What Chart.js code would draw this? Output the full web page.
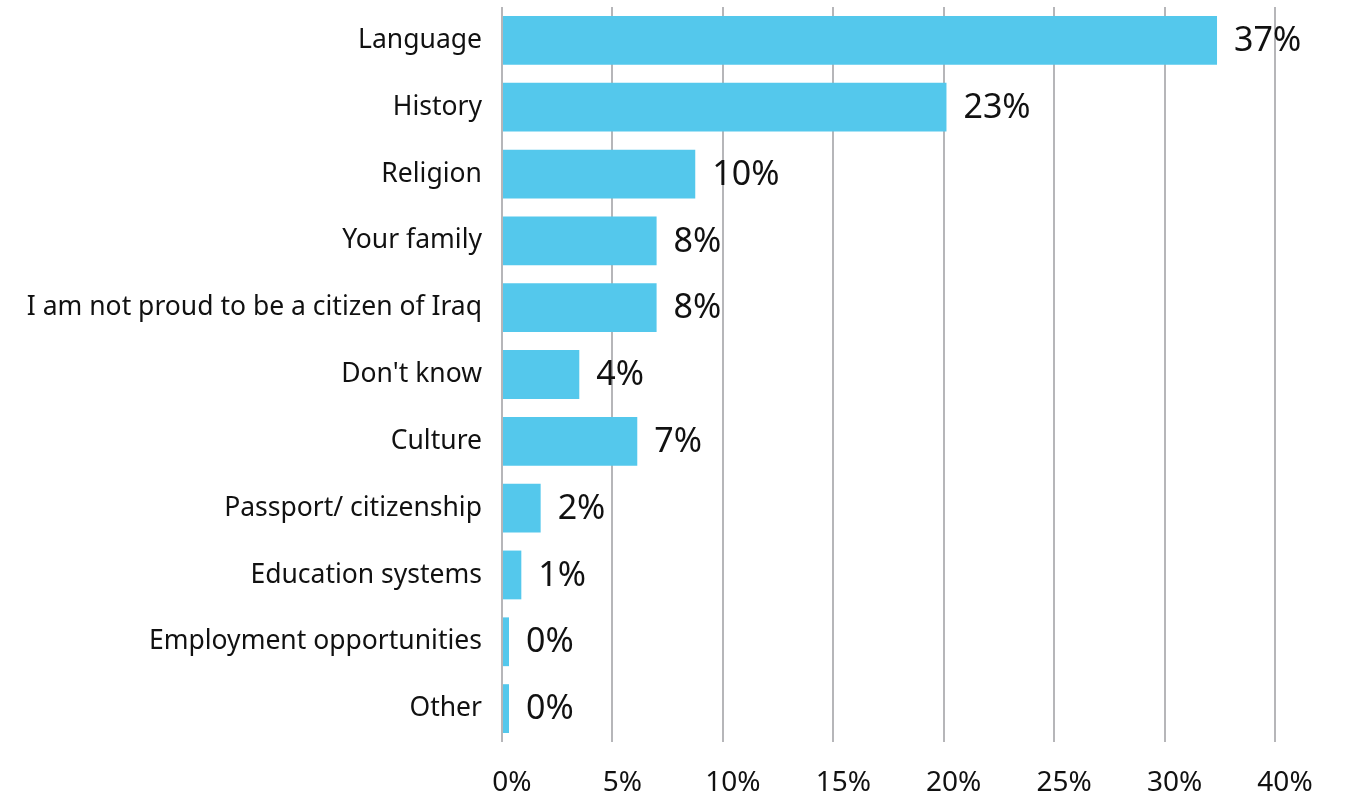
<!DOCTYPE html>
<html>
<head>
<meta charset="utf-8">
<script src="https://cdn.jsdelivr.net/npm/chart.js@4.4.0/dist/chart.umd.min.js"></script>
<style>
  body { margin: 0; background: #fff; }
  #wrap { width: 1361px; height: 805px; }
</style>
</head>
<body>
<div id="wrap"><canvas id="pride" width="1361" height="805"></canvas></div>
<script>
const categories = [
    'Language',
    'History',
    'Religion',
    'Your family',
    'I am not proud to be a citizen of Iraq',
    "Don't know",
    'Culture',
    'Passport/ citizenship',
    'Education systems',
    'Employment opportunities',
    'Other'
]
const shares = [37, 23, 10, 8, 8, 4, 7, 2, 1, 0, 0]
const tickLabels = ['0%', '5%', '10%', '15%', '20%', '25%', '30%', '40%']
const axisMax = 40

const fontFamily = '"Noto Sans", "Open Sans", sans-serif'
const gridGrey = '#b6b6b9'

// percentage labels at the end of each bar
const valueLabels = {
    id: 'valueLabels',
    afterDatasetsDraw(chart) {
        const ctx = chart.ctx
        const meta = chart.getDatasetMeta(0)
        ctx.save()
        ctx.font = '34px ' + fontFamily
        ctx.fillStyle = '#111'
        ctx.textAlign = 'left'
        ctx.textBaseline = 'middle'
        meta.data.forEach((bar, i) => {
            ctx.fillText(shares[i] + '%', bar.x + 17, bar.y + 1)
        })
        ctx.restore()
    }
}

new Chart(document.getElementById('pride'), {
    type: 'bar',
    data: {
        labels: categories,
        datasets: [{
            data: shares,
            backgroundColor: '#54c8ec',
            borderWidth: 0,
            barPercentage: 0.73,
            categoryPercentage: 1,
            minBarLength: 7
        }]
    },
    options: {
        indexAxis: 'y',
        responsive: false,
        animation: false,
        layout: { padding: { top: 7, right: 86, left: 0, bottom: 0 } },
        plugins: {
            legend: { display: false },
            tooltip: { enabled: false }
        },
        scales: {
            x: {
                min: 0,
                max: axisMax,
                afterBuildTicks(scale) {
                    // eight evenly spaced gridlines, labelled from tickLabels
                    scale.ticks = tickLabels.map((_, i) => ({ value: i * axisMax / (tickLabels.length - 1) }))
                },
                afterFit(scale) {
                    scale.height = 63
                    scale.paddingLeft = 0
                    scale.paddingRight = 0
                },
                border: { display: false },
                grid: { color: gridGrey, lineWidth: 2, drawTicks: false },
                ticks: {
                    callback: (v, i) => tickLabels[i],
                    color: '#111',
                    font: { family: fontFamily, size: 28 },
                    padding: 24,
                    labelOffset: 10,
                    maxRotation: 0
                }
            },
            y: {
                afterFit(scale) {
                    scale.width = 502
                    scale.paddingTop = 0
                    scale.paddingBottom = 0
                },
                border: { display: false },
                grid: { display: false },
                ticks: {
                    color: '#111',
                    font: { family: fontFamily, size: 26.5 },
                    padding: 12
                }
            }
        }
    },
    plugins: [valueLabels]
});
</script>
</body>
</html>
